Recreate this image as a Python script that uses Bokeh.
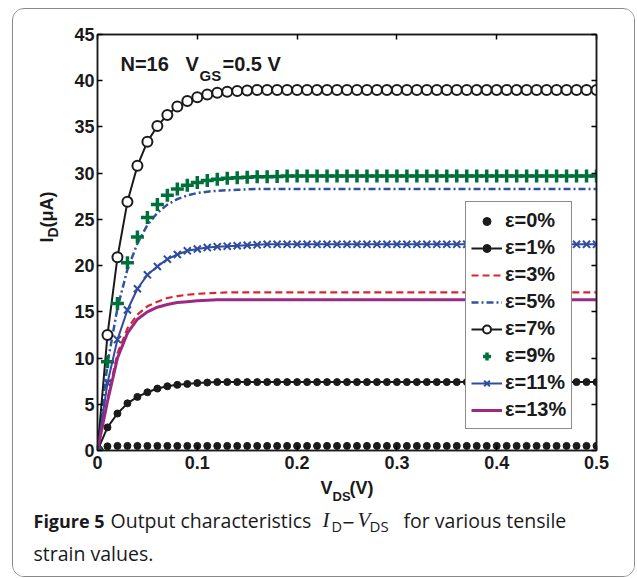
import math
from bokeh.plotting import figure
from bokeh.layouts import column, row
from bokeh.models import Range1d, LinearAxis, Label, FixedTicker
from bokeh.embed import file_html
from bokeh.resources import INLINE

# ---------------- data ----------------
vds = [0.00, 0.01, 0.02, 0.03, 0.04, 0.05, 0.06, 0.07, 0.08, 0.09,
       0.10, 0.11, 0.12, 0.13, 0.14, 0.15, 0.16, 0.17, 0.18, 0.19,
       0.20, 0.21, 0.22, 0.23, 0.24, 0.25, 0.26, 0.27, 0.28, 0.29,
       0.30, 0.31, 0.32, 0.33, 0.34, 0.35, 0.36, 0.37, 0.38, 0.39,
       0.40, 0.41, 0.42, 0.43, 0.44, 0.45, 0.46, 0.47, 0.48, 0.49, 0.50]

id_e0 = [0.0, 0.45, 0.5, 0.5, 0.5, 0.5, 0.5, 0.5, 0.5, 0.5,
         0.5, 0.5, 0.5, 0.5, 0.5, 0.5, 0.5, 0.5, 0.5, 0.5,
         0.5, 0.5, 0.5, 0.5, 0.5, 0.5, 0.5, 0.5, 0.5, 0.5,
         0.5, 0.5, 0.5, 0.5, 0.5, 0.5, 0.5, 0.5, 0.5, 0.5,
         0.5, 0.5, 0.5, 0.5, 0.5, 0.5, 0.5, 0.5, 0.5, 0.5, 0.5]

id_e1 = [0.0, 2.5, 4.0, 5.1, 5.8, 6.3, 6.7, 6.95, 7.1, 7.2,
         7.3, 7.35, 7.4, 7.4, 7.4, 7.4, 7.4, 7.4, 7.4, 7.4,
         7.4, 7.4, 7.4, 7.4, 7.4, 7.4, 7.4, 7.4, 7.4, 7.4,
         7.4, 7.4, 7.4, 7.4, 7.4, 7.4, 7.4, 7.4, 7.4, 7.4,
         7.4, 7.4, 7.4, 7.4, 7.4, 7.4, 7.4, 7.4, 7.4, 7.4, 7.4]

id_e3 = [0.0, 5.6, 10.5, 13.2, 14.7, 15.6, 16.1, 16.5, 16.7, 16.85,
         16.95, 17.0, 17.05, 17.1, 17.1, 17.1, 17.1, 17.1, 17.1, 17.1,
         17.1, 17.1, 17.1, 17.1, 17.1, 17.1, 17.1, 17.1, 17.1, 17.1,
         17.1, 17.1, 17.1, 17.1, 17.1, 17.1, 17.1, 17.1, 17.1, 17.1,
         17.1, 17.1, 17.1, 17.1, 17.1, 17.1, 17.1, 17.1, 17.1, 17.1, 17.1]

id_e5 = [0.0, 9.4, 15.4, 19.6, 22.4, 24.4, 25.7, 26.6, 27.2, 27.6,
         27.85, 28.0, 28.1, 28.15, 28.2, 28.25, 28.3, 28.3, 28.3, 28.3,
         28.3, 28.3, 28.3, 28.3, 28.3, 28.3, 28.3, 28.3, 28.3, 28.3,
         28.3, 28.3, 28.3, 28.3, 28.3, 28.3, 28.3, 28.3, 28.3, 28.3,
         28.3, 28.3, 28.3, 28.3, 28.3, 28.3, 28.3, 28.3, 28.3, 28.3, 28.3]

id_e7 = [0.0, 12.5, 20.9, 26.9, 30.8, 33.4, 35.1, 36.3, 37.2, 37.8,
         38.2, 38.5, 38.7, 38.8, 38.9, 38.95, 39.0, 39.0, 39.0, 39.0,
         39.0, 39.0, 39.0, 39.0, 39.0, 39.0, 39.0, 39.0, 39.0, 39.0,
         39.0, 39.0, 39.0, 39.0, 39.0, 39.0, 39.0, 39.0, 39.0, 39.0,
         39.0, 39.0, 39.0, 39.0, 39.0, 39.0, 39.0, 39.0, 39.0, 39.0, 39.0]

id_e9 = [0.0, 9.6, 15.9, 20.3, 23.1, 25.2, 26.6, 27.6, 28.3, 28.7,
         29.0, 29.2, 29.35, 29.45, 29.5, 29.55, 29.6, 29.6, 29.65, 29.7,
         29.7, 29.7, 29.7, 29.7, 29.7, 29.7, 29.7, 29.7, 29.7, 29.7,
         29.7, 29.7, 29.7, 29.7, 29.7, 29.7, 29.7, 29.7, 29.7, 29.7,
         29.7, 29.7, 29.7, 29.7, 29.7, 29.7, 29.7, 29.7, 29.7, 29.7, 29.7]

id_e11 = [0.0, 7.3, 12.0, 15.2, 17.5, 19.0, 19.9, 20.7, 21.2, 21.6,
          21.8, 21.95, 22.05, 22.1, 22.15, 22.2, 22.25, 22.3, 22.3, 22.3,
          22.3, 22.3, 22.3, 22.3, 22.3, 22.3, 22.3, 22.3, 22.3, 22.3,
          22.3, 22.3, 22.3, 22.3, 22.3, 22.3, 22.3, 22.3, 22.3, 22.3,
          22.3, 22.3, 22.3, 22.3, 22.3, 22.3, 22.3, 22.3, 22.3, 22.3, 22.3]

id_e13 = [0.0, 5.3, 10.0, 12.7, 14.2, 15.0, 15.5, 15.8, 16.0, 16.1,
          16.2, 16.25, 16.3, 16.3, 16.3, 16.3, 16.3, 16.3, 16.3, 16.3,
          16.3, 16.3, 16.3, 16.3, 16.3, 16.3, 16.3, 16.3, 16.3, 16.3,
          16.3, 16.3, 16.3, 16.3, 16.3, 16.3, 16.3, 16.3, 16.3, 16.3,
          16.3, 16.3, 16.3, 16.3, 16.3, 16.3, 16.3, 16.3, 16.3, 16.3, 16.3]

legend_labels = ["ε=0%", "ε=1%", "ε=3%", "ε=5%", "ε=7%", "ε=9%", "ε=11%", "ε=13%"]
x_ticks = [0, 0.1, 0.2, 0.3, 0.4, 0.5]
y_ticks = [0, 5, 10, 15, 20, 25, 30, 35, 40, 45]

TXT = "#1a1a1a"

# page layout: content box starts at page (13, 9); inner size 621 x 567
OX, OY = 13, 9
YLAB_W = 58          # left strip for the rotated y label
TOP_H = 467          # height of the plot row
CAP_H = 567 - TOP_H  # caption strip

# ---------------- main plot ----------------
p = figure(width=621 - YLAB_W, height=TOP_H, x_range=Range1d(0, 0.5), y_range=Range1d(0, 45),
           output_backend="svg", toolbar_location=None,
           min_border_left=97 - (OX + YLAB_W), min_border_right=(OX + 621) - 596,
           min_border_top=34 - OY, min_border_bottom=(OY + TOP_H) - 450)
p.background_fill_color = "white"
p.border_fill_color = "white"
p.outline_line_color = TXT
p.outline_line_width = 1.5
p.xgrid.visible = False
p.ygrid.visible = False

for ax in (p.xaxis[0], p.yaxis[0]):
    ax.axis_line_width = 1.5
    ax.axis_line_color = TXT
    ax.major_tick_in = 5
    ax.major_tick_out = 0
    ax.major_tick_line_width = 1.5
    ax.minor_tick_line_color = None
    ax.major_label_text_font = "Liberation Sans"
    ax.major_label_text_font_style = "bold"
    ax.major_label_text_font_size = "18px"
    ax.major_label_text_color = TXT
p.xaxis[0].ticker = FixedTicker(ticks=x_ticks)
p.yaxis[0].ticker = FixedTicker(ticks=y_ticks)
p.xaxis[0].major_label_standoff = 5
p.yaxis[0].major_label_standoff = 3

for side, ticks in (("right", y_ticks), ("above", x_ticks)):
    ax = LinearAxis(ticker=FixedTicker(ticks=ticks))
    ax.major_label_text_font_size = "0px"
    ax.major_label_text_alpha = 0
    ax.major_tick_in = 5
    ax.major_tick_out = 0
    ax.major_tick_line_width = 1.5
    ax.minor_tick_line_color = None
    ax.axis_line_width = 1.5
    ax.axis_line_color = TXT
    p.add_layout(ax, side)

BLACK = "#1b1b1b"
RED = "#d7262c"
BLUE_DD = "#3253a3"
BLUE_X = "#2f4c9e"
GREEN = "#00703a"
MAGENTA = "#9a2a82"

p.scatter(vds, id_e0, marker="circle", size=7, color=BLACK, legend_label=legend_labels[0])
p.line(vds, id_e1, line_color=BLACK, line_width=2, legend_label=legend_labels[1])
p.scatter(vds, id_e1, marker="circle", size=7, color=BLACK, legend_label=legend_labels[1])
p.line(vds, id_e3, line_color=RED, line_width=2.2, line_dash="7 4", legend_label=legend_labels[2])
p.line(vds, id_e5, line_color=BLUE_DD, line_width=2.5, line_dash="7 3 2 3", legend_label=legend_labels[3])
p.line(vds, id_e7, line_color=BLACK, line_width=2, legend_label=legend_labels[4])
p.scatter(vds, id_e7, marker="circle", size=10, line_color=BLACK, line_width=2,
          fill_color="white", legend_label=legend_labels[4])
p.scatter(vds, id_e9, marker="cross", size=13, line_color=GREEN, line_width=3.5,
          legend_label=legend_labels[5])
p.line(vds, id_e11, line_color=BLUE_X, line_width=2, legend_label=legend_labels[6])
p.scatter(vds, id_e11, marker="x", size=10, line_color=BLUE_X, line_width=2,
          legend_label=legend_labels[6])
p.line(vds, id_e13, line_color=MAGENTA, line_width=3, legend_label=legend_labels[7])

lg = p.legend[0]
lg.location = (368, 21)
lg.label_text_font = "Liberation Sans"
lg.label_text_font_style = "bold"
lg.label_text_font_size = "20px"
lg.label_text_color = TXT
lg.glyph_width = 31
lg.glyph_height = 20
lg.label_height = 27
lg.label_standoff = 3
lg.spacing = 0
lg.padding = 5
lg.margin = 0
lg.border_line_color = TXT
lg.border_line_width = 1.5
lg.background_fill_color = "white"
lg.background_fill_alpha = 1


def blank_fig(w, h):
    f = figure(width=w, height=h, x_range=Range1d(0, 1), y_range=Range1d(0, 1),
               output_backend="svg", toolbar_location=None,
               x_axis_type=None, y_axis_type=None,
               min_border_left=0, min_border_right=0, min_border_top=0, min_border_bottom=0)
    f.xgrid.visible = False
    f.ygrid.visible = False
    f.outline_line_color = None
    f.background_fill_color = "white"
    f.border_fill_color = "white"
    return f


ylab = blank_fig(YLAB_W, TOP_H)
cap = blank_fig(621, CAP_H)


def lab(fig, fx, fy, fh, px, py, text, size, style="bold", font="Liberation Sans", rotated=False):
    # px, py: page position of the text start on its alphabetic baseline.
    # The label is anchored at the middle of its em box (0.35 em above the baseline).
    mid = 0.35 * size
    if rotated:
        ax_, ay_ = px - mid, py
    else:
        ax_, ay_ = px, py - mid
    fig.add_layout(Label(x=ax_ - fx, y=(fy + fh) - ay_, x_units="screen", y_units="screen",
                         text=text, text_font=font, text_font_size=f"{size}px",
                         text_font_style=style, text_align="left",
                         text_baseline="middle", angle=(math.pi / 2 if rotated else 0.0),
                         text_color=TXT))


# annotation inside the plot frame (frame-relative: frame left 97, bottom 450)
MX, MY, MH = 97, 0, 450
lab(p, MX, MY, MH, 120, 70, "N=16", 20)
lab(p, MX, MY, MH, 185, 70, "V", 20)
lab(p, MX, MY, MH, 199, 80, "GS", 15)
lab(p, MX, MY, MH, 222, 70, "=0.5 V", 20)

# y axis label (rotated)
lab(ylab, OX, OY, TOP_H, 53, 268, "I", 18, rotated=True)
lab(ylab, OX, OY, TOP_H, 57, 263, "D", 14, rotated=True)
lab(ylab, OX, OY, TOP_H, 53, 253, "(μA)", 18, rotated=True)

# x axis label
CY = OY + TOP_H
lab(cap, OX, CY, CAP_H, 320, 493.5, "V", 18)
lab(cap, OX, CY, CAP_H, 332, 501, "DS", 13)
lab(cap, OX, CY, CAP_H, 349, 493.5, "(V)", 18)

# caption
CAPF = "Open Sans"
lab(cap, OX, CY, CAP_H, 33, 527, "Figure 5", 18, style="bold", font=CAPF)
lab(cap, OX, CY, CAP_H, 110, 527, "Output characteristics", 19.5, style="normal", font=CAPF)
lab(cap, OX, CY, CAP_H, 322, 527, "I", 21, style="italic", font="Liberation Serif")
lab(cap, OX, CY, CAP_H, 331, 531, "D", 14.5, style="normal", font=CAPF)
lab(cap, OX, CY, CAP_H, 341, 527, "−", 16, style="normal", font="DejaVu Sans")
lab(cap, OX, CY, CAP_H, 357, 527, "V", 21, style="italic", font="Liberation Serif")
lab(cap, OX, CY, CAP_H, 369, 531, "DS", 15, style="normal", font=CAPF)
lab(cap, OX, CY, CAP_H, 403, 527, "for various tensile", 19.5, style="normal", font=CAPF)
lab(cap, OX, CY, CAP_H, 33, 560, "strain values.", 19.5, style="normal", font=CAPF)

layout = column(row(ylab, p, spacing=0), cap, spacing=0)
layout.styles = {"margin-left": "12px", "margin-top": "8px",
                 "border": "1px solid #8a8a8a", "border-radius": "12px", "overflow": "hidden"}

open("out.html", "w").write(file_html(layout, INLINE))
